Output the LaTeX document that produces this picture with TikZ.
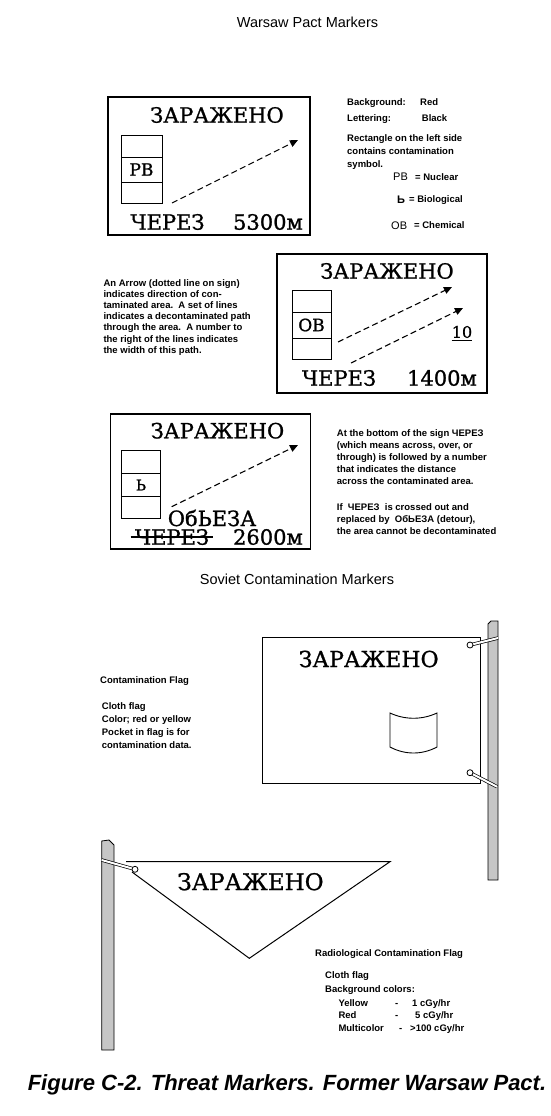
\documentclass[tikz,border=0pt]{standalone}
\usepackage{fontspec}
\setmainfont{Liberation Sans}
\newfontfamily\signfont[FakeBold=1]{DejaVu Serif}
\usetikzlibrary{positioning, arrows.meta, calc}

\tikzset{
    note/.style={font=\bfseries\fontsize{9.5}{11.2}\selectfont, align=left, inner sep=0pt, anchor=north west},
    item/.style={font=\bfseries\fontsize{9.5}{11}\selectfont, inner sep=0pt, anchor=base west},
    heading/.style={font=\fontsize{14.5}{17}\selectfont, inner sep=0pt},
    ru/.style={font=\signfont\fontsize{21}{24}\selectfont, inner sep=0pt},
    rusym/.style={font=\signfont\fontsize{17}{20}\selectfont, inner sep=0pt},
    signbox/.style={draw, line width=1.1pt},
    trail/.style={line width=1.1pt, dash pattern=on 6pt off 3.5pt, -{Triangle[length=8pt, width=7pt]}},
    pole/.style={draw, line width=0.8pt, fill=gray!45},
    tie/.style={line width=0.7pt, double=white, double distance=2pt},
    ring/.style={draw, line width=0.8pt, fill=white},
}

\begin{document}
\begin{tikzpicture}[x=1pt, y=-1pt]
    \useasboundingbox (0,0) rectangle (550,1116);

    % headings
    \node[heading] (wptitle) at (307.5,22) {Warsaw Pact Markers};
    \node[heading] (sovtitle) at (297,579) {Soviet Contamination Markers};
    \node[font=\bfseries\itshape\fontsize{22}{26}\selectfont, inner sep=0pt] (caption) at (287,1085) {Figure C-2. Threat Markers. Former Warsaw Pact.};

    % sign 1
    \draw[signbox] (108,97) rectangle (310,235);
    \node[ru] (zar1) at (217,115) {ЗАРАЖЕНО};
    \draw[line width=0.9pt] (121,135) rectangle (162,203);
    \draw[line width=0.9pt] (121,157) -- (162,157) (121,182) -- (162,182);
    \node[rusym] (rb1) at (141.5,169.5) {РВ};
    \coordinate (tr1a) at (172,203);
    \coordinate (tr1b) at (298,140);
    \draw[trail] (tr1a) -- (tr1b);
    \node[ru] (cherez1) at (167.5,222) {ЧЕРЕЗ};
    \node[ru] (dist1) at (268,222) {5300м};

    % legend of sign 1
    \node[item] (bg) at (347,105) {Background:};
    \node[item] (bgval) at (420,105) {Red};
    \node[item] (let) at (347,121.7) {Lettering:};
    \node[item] (letval) at (421.7,121.7) {Black};
    \node[note, font=\bfseries\fontsize{9.5}{12.7}\selectfont] (rectnote) at (347,134.8) {Rectangle on the left side\\contains contamination\\symbol.};
    \node[item, font=\fontsize{11}{13}\selectfont] (symrb) at (393,180.8) {РВ};
    \node[item] (nuc) at (415,180.1) {= Nuclear};
    \node[item, font=\bfseries\fontsize{11}{13}\selectfont] (symb) at (397,203.4) {Ь};
    \node[item] (bio) at (409,202.7) {= Biological};
    \node[item, font=\fontsize{11}{13}\selectfont] (symov) at (391,229.1) {ОВ};
    \node[item] (chem) at (414,228.4) {= Chemical};

    % sign 2
    \draw[signbox] (277,254) rectangle (487,393);
    \node[ru] (zar2) at (387,271) {ЗАРАЖЕНО};
    \draw[line width=0.9pt] (292,290) rectangle (331,359);
    \draw[line width=0.9pt] (292,312) -- (331,312) (292,338) -- (331,338);
    \node[rusym] (ov2) at (311.5,325) {ОВ};
    \coordinate (tr2a) at (338,342);
    \coordinate (tr2b) at (452,287);
    \coordinate (tr3a) at (351,363);
    \coordinate (tr3b) at (463,308);
    \draw[trail] (tr2a) -- (tr2b);
    \draw[trail] (tr3a) -- (tr3b);
    \node[font=\signfont\fontsize{16}{18}\selectfont, inner sep=0pt] (w10) at (462,332) {10};
    \draw[line width=0.9pt] ([yshift=-2pt]w10.south west) -- ([yshift=-2pt]w10.south east);
    \node[ru] (cherez2) at (339,378) {ЧЕРЕЗ};
    \node[ru] (dist2) at (442,378) {1400м};

    \node[note, font=\bfseries\fontsize{9.5}{11.1}\selectfont] (arrownote) at (103.3,279.5) {An Arrow (dotted line on sign)\\indicates direction of con-\\taminated area.\ \ A set of lines\\indicates a decontaminated path\\through the area.\ \ A number to\\the right of the lines indicates\\the width of this path.};

    % sign 3
    \draw[signbox] (110.7,414) rectangle (310.7,549);
    \node[ru] (zar3) at (217.5,430.7) {ЗАРАЖЕНО};
    \draw[line width=0.9pt] (121.7,450) rectangle (160,518);
    \draw[line width=0.9pt] (121.7,473.3) -- (160,473.3) (121.7,496.7) -- (160,496.7);
    \node[font=\signfont\fontsize{15}{18}\selectfont, inner sep=0pt] (b3) at (141,485) {Ь};
    \coordinate (tr4a) at (171.7,506.7);
    \coordinate (tr4b) at (298,445);
    \draw[trail] (tr4a) -- (tr4b);
    \node[ru] (detour) at (212,518) {ОбЬЕЗА};
    \node[ru] (cherez3) at (172,537) {ЧЕРЕЗ};
    \draw[line width=1.1pt] ([xshift=-4pt]cherez3.west) -- ([xshift=4pt]cherez3.east);
    \node[ru] (dist3) at (268,537) {2600м};

    \node[note, font=\bfseries\fontsize{9.5}{12.1}\selectfont] (cherznote) at (336.7,429.5) {At the bottom of the sign ЧЕРЕЗ\\(which means across, over, or\\through) is followed by a number\\that indicates the distance\\across the contaminated area.\\[13pt]If\ \ ЧЕРЕЗ\ \ is crossed out and\\replaced by\ \ ОбЬЕЗА (detour),\\the area cannot be decontaminated};

    % contamination flag
    \draw[line width=1pt] (262,637) rectangle (480,783);
    \node[font=\signfont\fontsize{22}{26}\selectfont, inner sep=0pt] (zar4) at (368.7,659) {ЗАРАЖЕНО};
    \draw[line width=0.9pt] (390,713) .. controls (405,720) and (422,720) .. (437,713) -- (437,747) .. controls (422,755) and (405,755) .. (390,747) -- cycle;
    \draw[pole] (488,624) -- (491,621) -- (498,621) -- (498,880) -- (488,880) -- cycle;
    \coordinate (ringA) at (470,645);
    \coordinate (ringB) at (470,772.7);
    \coordinate (tieA) at (498,638);
    \coordinate (tieB) at (497,786.7);
    \draw[tie] (ringA) -- (tieA);
    \draw[tie] (ringB) -- (tieB);
    \draw[ring] (ringA) circle (3pt);
    \draw[ring] (ringB) circle (3pt);

    \node[item] (flagtitle) at (100,683.4) {Contamination Flag};
    \node[note, font=\bfseries\fontsize{9.5}{12.8}\selectfont] (flagnote) at (101.7,702.9) {Cloth flag\\Color; red or yellow\\Pocket in flag is for\\contamination data.};

    % radiological flag
    \draw[pole] (101.7,841) -- (109,840) -- (114,845) -- (114,1050) -- (101.7,1050) -- cycle;
    \draw[line width=1pt] (126,861.7) -- (390,861.7) -- (249.3,958.3) -- (132,872);
    \coordinate (ringC) at (135,869.3);
    \coordinate (tieC) at (101.7,860);
    \draw[tie] (tieC) -- (ringC);
    \draw[ring] (ringC) circle (3pt);
    \node[font=\signfont\fontsize{23}{26}\selectfont, inner sep=0pt] (zar5) at (250.5,881.7) {ЗАРАЖЕНО};

    \node[item] (radtitle) at (315,956.7) {Radiological Contamination Flag};
    \node[item] (radcloth) at (325,978.4) {Cloth flag};
    \node[item] (radbg) at (325,992.7) {Background colors:};
    \node[item] (yel) at (338.3,1006.7) {Yellow};
    \node[item] (yeldash) at (395,1006.7) {-};
    \node[item] (yelval) at (412,1006.7) {1 cGy/hr};
    \node[item] (red) at (338.3,1018.4) {Red};
    \node[item] (reddash) at (395,1018.4) {-};
    \node[item] (redval) at (415,1018.4) {5 cGy/hr};
    \node[item] (multi) at (338.3,1031.7) {Multicolor};
    \node[item] (multidash) at (399,1031.7) {-};
    \node[item] (multival) at (410,1031.7) {>100 cGy/hr};
\end{tikzpicture}
\end{document}
